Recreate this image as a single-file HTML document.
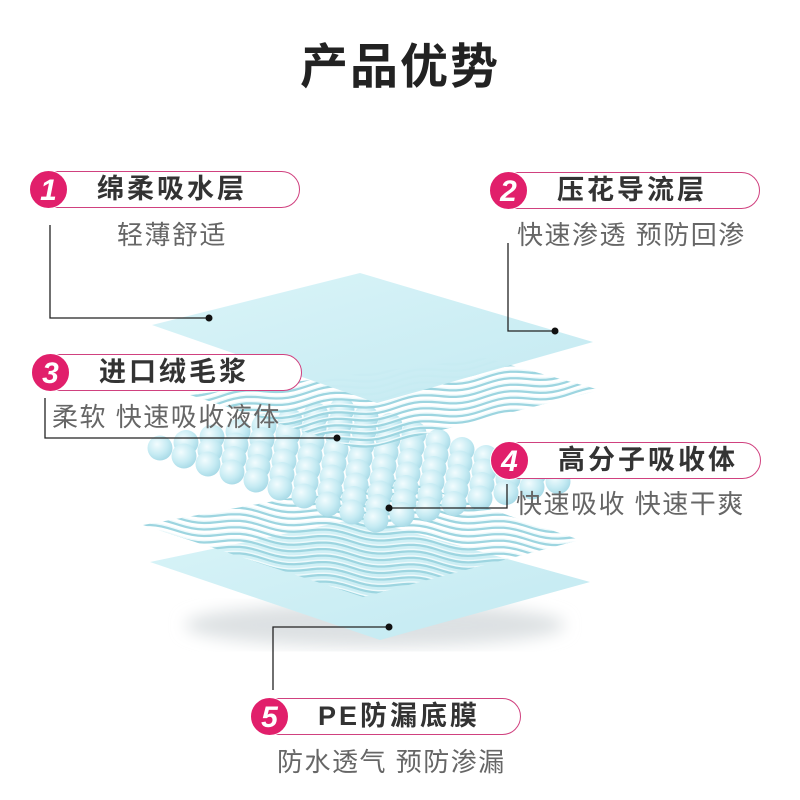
<!DOCTYPE html>
<html><head><meta charset="utf-8"><style>
html,body{margin:0;padding:0;background:#fff;}
#w{position:relative;width:800px;height:800px;overflow:hidden;font-family:"Liberation Sans","Noto Sans CJK SC",sans-serif;}
.t{position:absolute;left:0;width:800px;top:36px;text-align:center;font-size:48px;line-height:64px;font-weight:bold;color:#222;letter-spacing:2px;}
.pill{position:absolute;height:37px;width:270px;border:1.5px solid #d0417f;border-radius:20px;background:#fff;box-sizing:border-box;}
.pill .c{position:absolute;left:-2px;top:-2px;width:39px;height:39px;border-radius:50%;background:#e11f6b;color:#fff;font-size:30px;font-weight:bold;font-style:italic;text-align:center;line-height:39px;border:1px solid #fff;box-sizing:border-box;}
.pill .l{position:absolute;left:66px;top:0;line-height:35px;font-size:27px;font-weight:bold;color:#333;letter-spacing:3px;white-space:nowrap;}
.s{position:absolute;font-size:26px;line-height:38px;color:#666;white-space:nowrap;letter-spacing:1.5px;}
svg{position:absolute;left:0;top:0;}
</style></head><body><div id="w">
<svg id="g" width="800" height="800" viewBox="0 0 800 800">
<defs>
<radialGradient id="b" cx="0.38" cy="0.35" r="0.7"><stop offset="0" stop-color="#f2fcfe"/><stop offset="0.6" stop-color="#c6ebf3"/><stop offset="1" stop-color="#a6d9e6"/></radialGradient>
<linearGradient id="sh" x1="0" y1="0" x2="1" y2="1"><stop offset="0" stop-color="#d9f4f8"/><stop offset="1" stop-color="#c2e9f1"/></linearGradient>
<clipPath id="c1"><polygon points="190,395 485,358 600,390 362,450"/></clipPath>
<clipPath id="c2"><polygon points="143,525 400,478 580,540 363,597"/></clipPath>
<filter id="bl"><feGaussianBlur stdDeviation="8"/></filter>
</defs>
<ellipse cx="375" cy="625" rx="190" ry="22" fill="#dde1e3" filter="url(#bl)"/>
<polygon points="150,562 360,518 590,582 380,640" fill="url(#sh)"/>
<g id="w2" clip-path="url(#c2)"></g>
<g id="balls"></g>
<g id="w1" clip-path="url(#c1)"></g>
<polygon points="152,325 360,273 593,342 377,403" fill="url(#sh)" opacity="0.97"/>
<g stroke="#222" stroke-width="1.3" fill="none">
<polyline points="50,225 50,318 209,318"/>
<polyline points="508,243 508,331 555,331"/>
<polyline points="45,398 45,438 337,438"/>
<polyline points="507,484 507,508 389,508"/>
<polyline points="389,627 273,627 273,690"/>
</g>
<g fill="#111"><circle cx="209" cy="318" r="3.5"/><circle cx="555" cy="331" r="3.5"/><circle cx="337" cy="438" r="3.5"/><circle cx="389" cy="508" r="3.5"/><circle cx="389" cy="627" r="3.5"/></g>
</svg>
<div class="t">产品优势</div>
<div class="pill" style="left:30px;top:171px"><div class="c">1</div><div class="l">绵柔吸水层</div></div>
<div class="s" style="left:117px;top:216px">轻薄舒适</div>
<div class="pill" style="left:490px;top:172px"><div class="c">2</div><div class="l">压花导流层</div></div>
<div class="s" style="left:517px;top:216px">快速渗透 预防回渗</div>
<div class="pill" style="left:32px;top:354px"><div class="c">3</div><div class="l">进口绒毛浆</div></div>
<div class="s" style="left:52px;top:398px">柔软 快速吸收液体</div>
<div class="pill" style="left:491px;top:442px"><div class="c">4</div><div class="l">高分子吸收体</div></div>
<div class="s" style="left:516px;top:485px">快速吸收 快速干爽</div>
<div class="pill" style="left:251px;top:698px"><div class="c">5</div><div class="l">PE防漏底膜</div></div>
<div class="s" style="left:277px;top:743px">防水透气 预防渗漏</div>
</div>
<script>
var NS="http://www.w3.org/2000/svg";
function waves(id,x0,x1,y0,y1,slope){
 var g=document.getElementById(id);
 for(var y=y0;y<y1;y+=6.5){
  var d="M"+x0+" "+y;
  for(var x=x0;x<x1;x+=6){d+=" L"+(x+6)+" "+(y+(x+6-x0)*slope+3*Math.sin((x+6)/14));}
  var p=document.createElementNS(NS,"path");p.setAttribute("d",d);p.setAttribute("fill","none");
  p.setAttribute("stroke","#9dd5e0");p.setAttribute("stroke-width","3");g.appendChild(p);
  var q=p.cloneNode();q.setAttribute("stroke","#eefafc");q.setAttribute("stroke-width","1.4");q.setAttribute("transform","translate(0,-1.5)");g.appendChild(q);
 }
}
waves("w1",150,620,320,520,-0.12);
waves("w2",120,600,440,660,0.1);
var b=document.getElementById("balls"),pts=[];
for(var i=0;i<10;i++)for(var j=0;j<8;j++){pts.push([160+i*24+j*26,448+i*8-j*5.5]);}
pts.sort(function(a,c){return a[1]-c[1];});
pts.forEach(function(p){var c=document.createElementNS(NS,"circle");c.setAttribute("cx",p[0]);c.setAttribute("cy",p[1]);c.setAttribute("r",12.5);c.setAttribute("fill","url(#b)");b.appendChild(c);});
</script>
</body></html>
